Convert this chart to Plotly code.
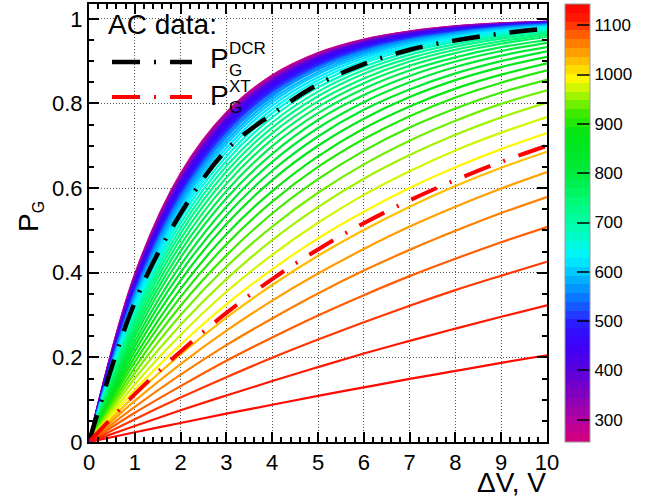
import plotly.graph_objects as go

# ---------------- data ----------------
dv_volts = [0, 1, 2, 3, 4, 5, 6, 7, 8, 9, 10]

wavelengths = [260, 280, 300, 320, 340, 360, 380, 400, 420, 440, 460, 480, 500,
               520, 540, 560, 580, 600, 620, 640, 660, 680, 700, 720, 740, 760,
               780, 800, 820, 840, 860, 880, 900, 920, 940, 960, 980, 1000, 1020,
               1040, 1060, 1080, 1100, 1120, 1140]

pg_ac = [
    [0, 0.395, 0.634, 0.778, 0.866, 0.919, 0.951, 0.970, 0.982, 0.989, 0.993],
    [0, 0.393, 0.631, 0.776, 0.864, 0.918, 0.950, 0.970, 0.982, 0.989, 0.993],
    [0, 0.391, 0.629, 0.774, 0.862, 0.916, 0.949, 0.969, 0.981, 0.988, 0.993],
    [0, 0.389, 0.627, 0.772, 0.861, 0.915, 0.948, 0.968, 0.981, 0.988, 0.993],
    [0, 0.387, 0.624, 0.769, 0.859, 0.913, 0.947, 0.967, 0.980, 0.988, 0.992],
    [0, 0.384, 0.621, 0.767, 0.856, 0.912, 0.946, 0.966, 0.979, 0.987, 0.992],
    [0, 0.382, 0.618, 0.764, 0.854, 0.910, 0.944, 0.966, 0.979, 0.987, 0.992],
    [0, 0.379, 0.614, 0.760, 0.851, 0.907, 0.943, 0.964, 0.978, 0.986, 0.991],
    [0, 0.376, 0.610, 0.757, 0.848, 0.905, 0.941, 0.963, 0.977, 0.986, 0.991],
    [0, 0.372, 0.606, 0.753, 0.845, 0.903, 0.939, 0.962, 0.976, 0.985, 0.991],
    [0, 0.369, 0.601, 0.748, 0.841, 0.900, 0.937, 0.960, 0.975, 0.984, 0.990],
    [0, 0.365, 0.597, 0.744, 0.837, 0.897, 0.934, 0.958, 0.974, 0.983, 0.989],
    [0, 0.360, 0.591, 0.738, 0.833, 0.893, 0.932, 0.956, 0.972, 0.982, 0.989],
    [0, 0.356, 0.585, 0.733, 0.828, 0.889, 0.929, 0.954, 0.970, 0.981, 0.988],
    [0, 0.351, 0.579, 0.726, 0.822, 0.885, 0.925, 0.951, 0.968, 0.980, 0.987],
    [0, 0.346, 0.572, 0.720, 0.817, 0.880, 0.921, 0.949, 0.966, 0.978, 0.986],
    [0, 0.340, 0.564, 0.712, 0.810, 0.874, 0.917, 0.945, 0.964, 0.976, 0.984],
    [0, 0.334, 0.556, 0.704, 0.803, 0.869, 0.912, 0.942, 0.961, 0.974, 0.983],
    [0, 0.327, 0.547, 0.695, 0.795, 0.862, 0.907, 0.937, 0.958, 0.972, 0.981],
    [0, 0.320, 0.538, 0.686, 0.786, 0.855, 0.901, 0.933, 0.954, 0.969, 0.979],
    [0, 0.313, 0.528, 0.675, 0.777, 0.847, 0.895, 0.928, 0.950, 0.966, 0.976],
    [0, 0.305, 0.517, 0.664, 0.767, 0.838, 0.887, 0.922, 0.946, 0.962, 0.974],
    [0, 0.297, 0.505, 0.652, 0.755, 0.828, 0.879, 0.915, 0.940, 0.958, 0.970],
    [0, 0.288, 0.493, 0.639, 0.743, 0.817, 0.870, 0.907, 0.934, 0.953, 0.967],
    [0, 0.279, 0.480, 0.625, 0.730, 0.805, 0.859, 0.899, 0.927, 0.947, 0.962],
    [0, 0.269, 0.466, 0.610, 0.715, 0.792, 0.848, 0.889, 0.919, 0.941, 0.957],
    [0, 0.259, 0.451, 0.593, 0.699, 0.777, 0.835, 0.878, 0.909, 0.933, 0.950],
    [0, 0.249, 0.436, 0.576, 0.681, 0.761, 0.820, 0.865, 0.899, 0.924, 0.943],
    [0, 0.237, 0.418, 0.556, 0.662, 0.742, 0.803, 0.850, 0.886, 0.913, 0.933],
    [0, 0.226, 0.401, 0.536, 0.641, 0.722, 0.785, 0.833, 0.871, 0.900, 0.923],
    [0, 0.214, 0.382, 0.515, 0.619, 0.700, 0.764, 0.815, 0.855, 0.886, 0.910],
    [0, 0.201, 0.362, 0.491, 0.593, 0.675, 0.741, 0.793, 0.835, 0.868, 0.895],
    [0, 0.189, 0.343, 0.467, 0.568, 0.650, 0.716, 0.770, 0.814, 0.849, 0.878],
    [0, 0.176, 0.322, 0.441, 0.540, 0.621, 0.688, 0.743, 0.788, 0.826, 0.856],
    [0, 0.163, 0.300, 0.414, 0.509, 0.589, 0.656, 0.712, 0.759, 0.799, 0.831],
    [0, 0.150, 0.277, 0.385, 0.477, 0.555, 0.622, 0.678, 0.726, 0.767, 0.802],
    [0, 0.136, 0.253, 0.355, 0.442, 0.518, 0.584, 0.640, 0.689, 0.731, 0.768],
    [0, 0.123, 0.230, 0.325, 0.408, 0.481, 0.544, 0.600, 0.649, 0.692, 0.730],
    [0, 0.110, 0.207, 0.294, 0.371, 0.440, 0.501, 0.556, 0.605, 0.648, 0.686],
    [0, 0.097, 0.184, 0.263, 0.334, 0.398, 0.456, 0.509, 0.556, 0.599, 0.638],
    [0, 0.083, 0.159, 0.229, 0.292, 0.351, 0.405, 0.454, 0.499, 0.541, 0.579],
    [0, 0.069, 0.132, 0.192, 0.247, 0.299, 0.347, 0.392, 0.433, 0.472, 0.508],
    [0, 0.054, 0.105, 0.153, 0.199, 0.242, 0.283, 0.322, 0.359, 0.393, 0.426],
    [0, 0.038, 0.075, 0.110, 0.144, 0.177, 0.209, 0.239, 0.268, 0.296, 0.323],
    [0, 0.023, 0.045, 0.067, 0.088, 0.109, 0.129, 0.149, 0.168, 0.187, 0.205],
]

pg_dcr = [0, 0.330, 0.540, 0.690, 0.775, 0.845, 0.893, 0.927, 0.949, 0.965, 0.977]
pg_xt = [0, 0.113, 0.214, 0.305, 0.385, 0.455, 0.517, 0.571, 0.619, 0.662, 0.700]

x_ticks = [0, 1, 2, 3, 4, 5, 6, 7, 8, 9, 10]
y_ticks = [0, 0.2, 0.4, 0.6, 0.8, 1]
z_ticks = [300, 400, 500, 600, 700, 800, 900, 1000, 1100]

# ---------------- style ----------------
Z_MIN, Z_MAX = 255, 1143
N_BANDS = 50
FONT = "Liberation Sans"

stops = [
    (255, (214, 0, 122)), (300, (180, 0, 160)), (350, (130, 0, 190)),
    (400, (90, 0, 220)), (450, (60, 0, 250)), (490, (45, 20, 255)),
    (520, (30, 70, 255)), (560, (0, 140, 255)), (600, (0, 200, 255)),
    (630, (0, 245, 255)), (680, (0, 255, 190)), (740, (0, 250, 120)),
    (800, (0, 235, 60)), (880, (0, 230, 20)), (920, (60, 235, 0)),
    (960, (170, 245, 0)), (990, (255, 250, 0)), (1020, (255, 205, 0)),
    (1050, (255, 150, 0)), (1080, (255, 95, 0)), (1110, (255, 30, 0)),
    (1143, (255, 0, 0)),
]


def cont_color(z):
    if z <= stops[0][0]:
        return stops[0][1]
    for (z0, c0), (z1, c1) in zip(stops[:-1], stops[1:]):
        if z0 <= z <= z1:
            f = (z - z0) / (z1 - z0)
            return tuple(round(a + (b - a) * f) for a, b in zip(c0, c1))
    return stops[-1][1]


def band_color(i):
    zc = Z_MIN + (i + 0.5) * (Z_MAX - Z_MIN) / N_BANDS
    r, g, b = cont_color(zc)
    return f"rgb({r},{g},{b})"


colorscale = []
for i in range(N_BANDS):
    c = band_color(i)
    colorscale.append([i / N_BANDS, c])
    colorscale.append([(i + 1) / N_BANDS, c])


def z_color(z):
    i = int((z - Z_MIN) / (Z_MAX - Z_MIN) * N_BANDS)
    i = max(0, min(N_BANDS - 1, i))
    return band_color(i)


fig = go.Figure()

for wl, ys in zip(wavelengths, pg_ac):
    fig.add_trace(go.Scatter(
        x=dv_volts, y=ys, mode="lines",
        line=dict(color=z_color(wl), width=2.2, shape="spline", smoothing=1.0),
        showlegend=False, hoverinfo="skip"))

fig.add_trace(go.Scatter(
    x=dv_volts, y=pg_dcr, mode="lines",
    line=dict(color="black", width=4.5, dash="28px,14px,2px,14px",
              shape="spline", smoothing=1.0),
    showlegend=False, hoverinfo="skip"))
fig.add_trace(go.Scatter(
    x=dv_volts, y=pg_xt, mode="lines",
    line=dict(color="red", width=4, dash="28px,14px,2px,14px",
              shape="spline", smoothing=1.0),
    showlegend=False, hoverinfo="skip"))

# colour scale carrier
fig.add_trace(go.Scatter(
    x=[0], y=[0], mode="markers",
    marker=dict(size=0, color=[wavelengths[0]], cmin=Z_MIN, cmax=Z_MAX,
                colorscale=colorscale, showscale=True,
                colorbar=dict(
                    thickness=25, thicknessmode="pixels",
                    len=1.0, lenmode="fraction",
                    x=(565 - 89) / 458, xanchor="left", xpad=0,
                    y=0.5, yanchor="middle", ypad=0,
                    tickvals=z_ticks, ticks="inside", ticklen=13, tickwidth=2,
                    tickcolor="rgba(0,0,0,0.75)",
                    tickfont=dict(size=17, family=FONT, color="black"),
                    outlinewidth=1, outlinecolor="#999")),
    showlegend=False, hoverinfo="skip"))

L, R, T, B = 89, 112, 4, 60
W, H = 659, 502
PW, PH = W - L - R, H - T - B


def px(xp):
    return (xp - L) / PW


def py(yp):
    return (H - B - yp) / PH


axis_common = dict(
    showline=True, linecolor="black", linewidth=2, mirror="allticks",
    ticks="inside", ticklen=10, tickwidth=1.5, tickcolor="black",
    showgrid=True, gridcolor="#555", gridwidth=1, griddash="1px,2px",
    zeroline=False,
    tickfont=dict(size=22, family=FONT, color="black"),
)

fig.update_xaxes(range=[0, 10], tickvals=x_ticks,
                 minor=dict(ticks="inside", ticklen=5, dtick=0.2, tick0=0,
                            tickcolor="black", showgrid=False),
                 **axis_common)
fig.update_yaxes(range=[0, 1.035], tickvals=y_ticks,
                 ticktext=["0", "0.2", "0.4", "0.6", "0.8", "1"],
                 minor=dict(ticks="inside", ticklen=5, dtick=0.05, tick0=0,
                            tickcolor="black", showgrid=False),
                 **axis_common)

ann = []
# axis titles
ann.append(dict(x=px(548), y=py(482), xref="paper", yref="paper",
                xanchor="right", yanchor="middle", showarrow=False,
                text="ΔV, V", font=dict(size=28, family=FONT, color="black")))
ann.append(dict(x=px(30), y=py(217), xref="paper", yref="paper",
                xanchor="center", yanchor="middle", showarrow=False, textangle=-90,
                text="P<sub><span style='font-size:16px'>G</span></sub>",
                font=dict(size=28, family=FONT, color="black")))
# legend
ann.append(dict(x=px(106), y=py(25), xref="paper", yref="paper",
                xanchor="left", yanchor="middle", showarrow=False,
                text="AC data:", font=dict(size=28, family=FONT, color="black")))
for yc, sup in [(58, "DCR"), (95, "XT")]:
    ann.append(dict(x=px(208), y=py(yc), xref="paper", yref="paper",
                    xanchor="left", yanchor="middle", showarrow=False,
                    text="P", font=dict(size=28, family=FONT, color="black")))
    ann.append(dict(x=px(227), y=py(yc - 9), xref="paper", yref="paper",
                    xanchor="left", yanchor="middle", showarrow=False,
                    text=sup, font=dict(size=17, family=FONT, color="black")))
    ann.append(dict(x=px(227), y=py(yc + 12), xref="paper", yref="paper",
                    xanchor="left", yanchor="middle", showarrow=False,
                    text="G", font=dict(size=17, family=FONT, color="black")))

shapes = [
    dict(type="line", xref="paper", yref="paper", x0=px(112), x1=px(192),
         y0=py(62), y1=py(62), line=dict(color="black", width=4.5,
                                         dash="28px,14px,2px,14px")),
    dict(type="line", xref="paper", yref="paper", x0=px(112), x1=px(192),
         y0=py(97), y1=py(97), line=dict(color="red", width=4,
                                         dash="28px,14px,2px,14px")),
]

fig.update_layout(
    width=W, height=H,
    margin=dict(l=L, r=R, t=T, b=B, autoexpand=False),
    paper_bgcolor="white", plot_bgcolor="white",
    showlegend=False,
    annotations=ann, shapes=shapes,
    font=dict(family=FONT, color="black"),
)

fig.write_html("out.html",
               config={"displayModeBar": False},
               post_script="document.body.style.margin='0px';"
                           "document.body.style.overflow='hidden';")
